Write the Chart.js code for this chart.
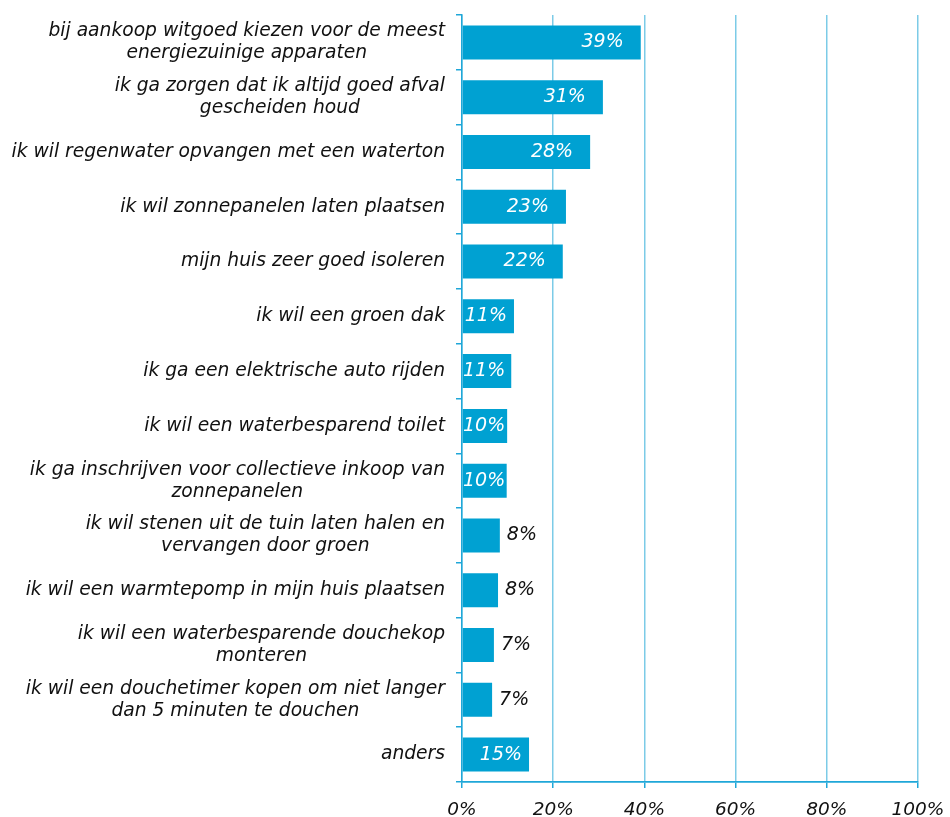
<!DOCTYPE html>
<html>
<head>
<meta charset="utf-8">
<script src="https://cdn.jsdelivr.net/npm/chart.js@4/dist/chart.umd.min.js"></script>
<style>
  html, body { margin: 0; padding: 0; background: #ffffff; }
  #wrap { position: relative; width: 950px; height: 817px; }
</style>
</head>
<body>
<div id="wrap"><canvas id="c" width="950" height="817"></canvas></div>
<script>
const categories = [
  ["bij aankoop witgoed kiezen voor de meest", "energiezuinige apparaten"],
  ["ik ga zorgen dat ik altijd goed afval", "gescheiden houd"],
  ["ik wil regenwater opvangen met een waterton"],
  ["ik wil zonnepanelen laten plaatsen"],
  ["mijn huis zeer goed isoleren"],
  ["ik wil een groen dak"],
  ["ik ga een elektrische auto rijden"],
  ["ik wil een waterbesparend toilet"],
  ["ik ga inschrijven voor collectieve inkoop van", "zonnepanelen"],
  ["ik wil stenen uit de tuin laten halen en", "vervangen door groen"],
  ["ik wil een warmtepomp in mijn huis plaatsen"],
  ["ik wil een waterbesparende douchekop", "monteren"],
  ["ik wil een douchetimer kopen om niet langer", "dan 5 minuten te douchen"],
  ["anders"]
];
const values = [39.2, 30.9, 28.1, 22.8, 22.1, 11.4, 10.8, 9.9, 9.8, 8.3, 7.9, 7.0, 6.6, 14.7];
const valueLabels = ["39%", "31%", "28%", "23%", "22%", "11%", "11%", "10%", "10%", "8%", "8%", "7%", "7%", "15%"];
const xTicks = [0, 20, 40, 60, 80, 100];

const FONT = "'DejaVu Sans', Verdana, sans-serif";
const BAR = '#00a1d2';
const AXIS = '#1fa7d8';
const GRID = '#7ccbe7';
const TEXT = '#111111';

const catLabelPlugin = {
  id: 'catLabels',
  afterDraw(chart) {
    const ctx = chart.ctx;
    const ys = chart.scales.y;
    const right = ys.right - 17;
    const lh = 22;
    ctx.save();
    ctx.font = 'italic 18.7px ' + FONT;
    ctx.fillStyle = TEXT;
    ctx.textAlign = 'center';
    ctx.textBaseline = 'middle';
    categories.forEach((lines, i) => {
      const cy = ys.getPixelForTick(i);
      let maxW = 0;
      lines.forEach(l => { maxW = Math.max(maxW, ctx.measureText(l).width); });
      const cx = right - maxW / 2;
      const y0 = cy - (lines.length - 1) * lh / 2;
      lines.forEach((l, k) => ctx.fillText(l, cx, y0 + k * lh));
    });
    ctx.restore();
  }
};

const valueLabelPlugin = {
  id: 'valueLabels',
  afterDatasetsDraw(chart) {
    const ctx = chart.ctx;
    const meta = chart.getDatasetMeta(0);
    const x0 = chart.scales.x.getPixelForValue(0);
    ctx.save();
    ctx.font = 'italic 19px ' + FONT;
    ctx.textBaseline = 'middle';
    meta.data.forEach((bar, i) => {
      const v = values[i];
      const txt = valueLabels[i];
      const w = ctx.measureText(txt).width;
      ctx.textAlign = 'left';
      if (v >= 9.5) {
        ctx.fillStyle = '#ffffff';
        const off = v >= 20 ? 17 : 7;
        let start = bar.x - off - w;
        if (start < x0 + 1) start = x0 + 1;
        ctx.fillText(txt, start, bar.y);
      } else {
        ctx.fillStyle = TEXT;
        ctx.fillText(txt, bar.x + 7, bar.y);
      }
    });
    ctx.restore();
  }
};

new Chart(document.getElementById('c'), {
  type: 'bar',
  data: {
    labels: categories,
    datasets: [{
      data: values,
      backgroundColor: BAR,
      borderWidth: 0,
      barPercentage: 0.62,
      categoryPercentage: 1.0
    }]
  },
  options: {
    indexAxis: 'y',
    responsive: false,
    animation: false,
    layout: { padding: { top: 15, right: 32, bottom: 0, left: 0 } },
    plugins: {
      legend: { display: false },
      tooltip: { enabled: false }
    },
    scales: {
      y: {
        type: 'category',
        offset: true,
        ticks: { display: false },
        grid: {
          offset: true,
          drawOnChartArea: false,
          drawTicks: true,
          tickLength: 6,
          color: AXIS,
          lineWidth: 1.5
        },
        border: { display: true, color: AXIS, width: 1.5 },
        afterFit(scale) { scale.width = 462; }
      },
      x: {
        type: 'linear',
        min: 0,
        max: 100,
        afterBuildTicks(scale) { scale.ticks = xTicks.map(v => ({ value: v })); },
        ticks: {
          callback: v => v + '%',
          font: { family: FONT, size: 18.5, style: 'italic' },
          color: TEXT,
          padding: 11,
          maxRotation: 0
        },
        grid: {
          color: GRID,
          lineWidth: 1.5,
          drawTicks: true,
          tickLength: 6,
          tickColor: AXIS
        },
        border: { display: true, color: AXIS, width: 1.8 },
        afterFit(scale) {
          scale.height = 35;
          scale.paddingRight = 0;
          scale.paddingLeft = 0;
        }
      }
    }
  },
  plugins: [catLabelPlugin, valueLabelPlugin]
});
</script>
</body>
</html>
